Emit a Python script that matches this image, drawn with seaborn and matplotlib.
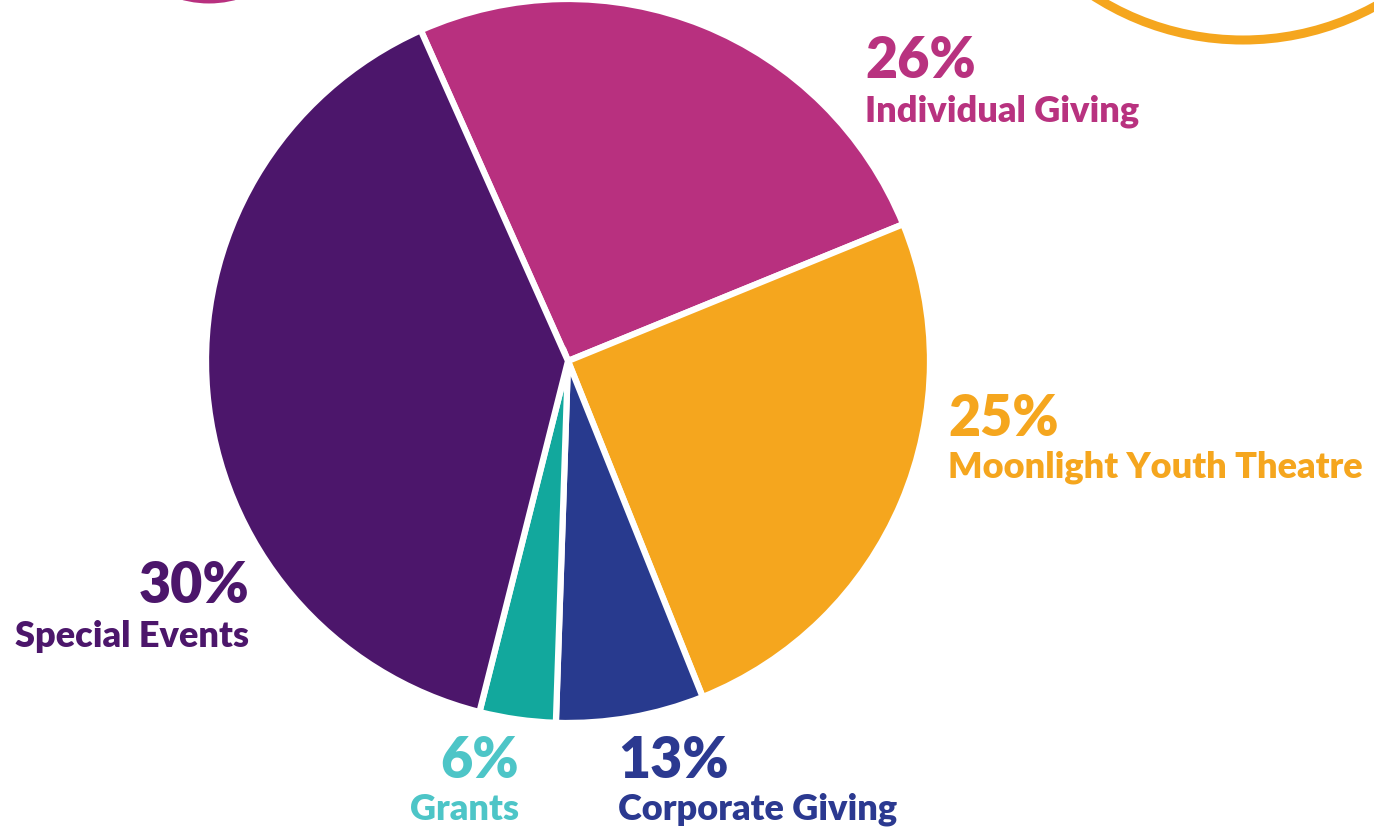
import matplotlib
matplotlib.use("Agg")
import matplotlib.pyplot as plt
from matplotlib.patches import Arc
import seaborn as sns

# ---- data ----
categories = ["Individual Giving", "Moonlight Youth Theatre", "Corporate Giving", "Grants", "Special Events"]
slice_shares = [25.5, 25.1, 6.6, 3.4, 39.4]          # as drawn in the picture
label_pcts = ["26%", "25%", "13%", "6%", "30%"]       # printed labels
slice_colors = ["#B8307F", "#F5A61E", "#283A8E", "#12A89D", "#4C166B"]
text_colors = ["#B8327F", "#F5A61E", "#2B3990", "#4DC5C7", "#4C166B"]

sns.set_theme(style="white")
plt.rcParams['font.family'] = ['Lato', 'DejaVu Sans']

W, H = 1374, 832
fig = plt.figure(figsize=(W / 100, H / 100), dpi=100)
ax = fig.add_axes([0, 0, 1, 1])
ax.set_xlim(0, W)
ax.set_ylim(0, H)
ax.set_aspect('equal')
ax.axis('off')

cx, cy, r = 568, H - 361, 362
ax.pie(slice_shares, colors=slice_colors, startangle=114, counterclock=False,
       center=(cx, cy), radius=r, frame=True,
       wedgeprops=dict(edgecolor="white", linewidth=4.5))
ax.set_xlim(0, W)
ax.set_ylim(0, H)
ax.axis('off')

# decorative circles
ax.add_patch(Arc((1243, H + 236), 2 * 276, 2 * 276, theta1=180, theta2=360,
                 color="#F5A61E", linewidth=6.5))
ax.add_patch(Arc((209, H + 100), 2 * 100, 2 * 100, theta1=180, theta2=360,
                 color="#B8307F", linewidth=5))

# labels: (x, pct baseline, name baseline, ha)
pos = {
    "Individual Giving": (865, 78, 122, "left"),
    "Moonlight Youth Theatre": (948, 436, 477, "left"),
    "Corporate Giving": (618, 778, 820, "left"),
    "Grants": (519, 778, 820, "right"),
    "Special Events": (249, 603, 647, "right"),
}
for cat, pct, col in zip(categories, label_pcts, text_colors):
    x, yb1, yb2, ha = pos[cat]
    ax.text(x, H - yb1, pct, color=col, fontsize=40, fontweight='heavy',
            ha=ha, va='baseline')
    ax.text(x, H - yb2, cat, color=col, fontsize=26, fontweight='heavy',
            ha=ha, va='baseline')

fig.savefig("out.png", dpi=100)
